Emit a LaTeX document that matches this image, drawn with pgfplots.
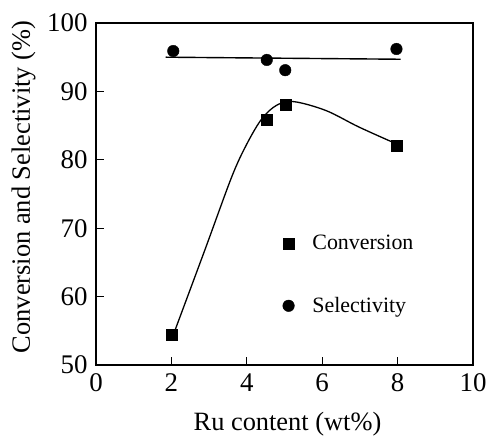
\documentclass[border=0pt]{standalone}
\usepackage{pgfplots}
\pgfplotsset{compat=1.18}
\usepackage{fontspec}
\setmainfont{Liberation Serif}
\begin{document}
\begin{tikzpicture}
\begin{axis}[
  scale only axis,
  width=377bp, height=342bp,
  xmin=0, xmax=10, ymin=50, ymax=100,
  xtick={0,2,4,6,8,10}, ytick={50,60,70,80,90,100},
  xtick pos=left, ytick pos=left,
  tick align=inside,
  major tick length=8bp,
  axis line style={line width=1.3bp},
  every tick/.style={line width=1.2bp, black},
  /pgf/number format/assume math mode=true,
  tick label style={font=\fontsize{27}{30}\selectfont},
  xticklabel style={yshift=-5bp},
  yticklabel style={xshift=-5bp},
  xlabel={Ru content (wt\%)},
  ylabel={Conversion and Selectivity (\%)},
  xlabel style={font=\fontsize{26.5}{30}\selectfont, at={(axis description cs:0.5,0)}, anchor=base, yshift=-66bp, xshift=3bp},
  ylabel style={font=\fontsize{26.5}{30}\selectfont, at={(axis description cs:0,0.5)}, anchor=base, yshift=66bp, xshift=7bp},
  legend style={at={(0.487,0.391)}, anchor=north west, draw=none, fill=none,
    font=\fontsize{22}{25}\selectfont, row sep=42bp},
  legend cell align=left,
]
\coordinate (BL) at (rel axis cs:0,0);
\coordinate (TR) at (rel axis cs:1,1);
% fitted curve through conversion points
\addplot[black, line width=1.3bp, smooth, tension=0.55, forget plot] coordinates {
 (2.05,54.4) (2.9,67.0) (3.6,77.5) (4.0,82.3) (4.4,86.0) (4.8,88.0)
 (5.25,88.5) (6.10,87.2) (6.97,84.8) (7.98,82.3)};
% horizontal line for selectivity
\addplot[black, line width=1.4bp, forget plot] coordinates {(1.85,95.0) (8.08,94.7)};
\addplot[only marks, mark=square*, mark size=5.5bp, black] coordinates {
 (2,54.5) (4.53,85.8) (5.02,88.1) (7.97,82.1)};
\addlegendentry{\hspace{16bp}Conversion}
\addplot[only marks, mark=*, mark size=5.8bp, black] coordinates {
 (2.05,95.9) (4.53,94.6) (5.02,93.1) (7.97,96.2)};
\addlegendentry{\hspace{16bp}Selectivity}
\end{axis}
\pgfresetboundingbox
\useasboundingbox ([shift={(-96bp,-73bp)}]BL) rectangle ([shift={(13bp,23bp)}]TR);
\end{tikzpicture}
\end{document}
